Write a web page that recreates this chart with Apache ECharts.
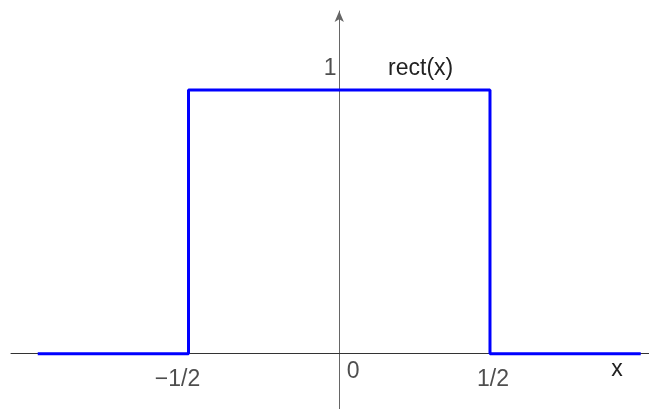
<!DOCTYPE html>
<html>
<head>
<meta charset="utf-8">
<script src="https://cdn.jsdelivr.net/npm/echarts@6/dist/echarts.min.js"></script>
<style>
  html, body { margin: 0; padding: 0; background: #fff; }
  #chart { width: 649px; height: 409px; }
</style>
</head>
<body>
<div id="chart"></div>
<script>
// rect(x) as a step outline
var rectX = [-1, -0.5, -0.5, 0.5, 0.5, 1];
var rectY = [0, 0, 1, 1, 0, 0];

// tick labels, placed at their values on the axes
var tickX = [-0.5, 0, 0.5, 0];
var tickY = [0, 0, 0, 1];
var tickLabels = ['−1/2', '0', '1/2', '1'];

var curveName = 'rect(x)';
var curveLabelAt = [0.27, 1];

var points = [];
for (var i = 0; i < rectX.length; i++) {
    points.push([rectX[i], rectY[i]]);
}

var font = 'Liberation Sans, Arial, sans-serif';
var txt = '#222';
var fs = 23;

// label offsets from their anchor point (px)
var offsets = [[-11, 26], [14, 18], [3, 26], [-9, -21]];
var tickItems = [];
for (var j = 0; j < tickLabels.length; j++) {
    tickItems.push({
        value: [tickX[j], tickY[j]],
        label: { formatter: tickLabels[j], offset: offsets[j] }
    });
}

var chart = echarts.init(document.getElementById('chart'));
chart.setOption({
    animation: false,
    grid: { left: 11, right: 0, top: 11, bottom: 0, containLabel: false, outerBoundsMode: 'none' },
    xAxis: {
        type: 'value',
        min: -1.0887,
        max: 1.0274,
        splitLine: { show: false },
        axisTick: { show: false },
        axisLabel: { show: false },
        axisLine: { onZero: true, lineStyle: { color: '#333', width: 1 } },
        name: 'x',
        nameLocation: 'end',
        nameGap: -32,
        nameTextStyle: {
            color: txt, fontFamily: font, fontSize: fs,
            align: 'center', verticalAlign: 'top', padding: [4, 0, 0, 0]
        }
    },
    yAxis: {
        type: 'value',
        min: -0.2097,
        max: 1.2996,
        splitLine: { show: false },
        axisTick: { show: false },
        axisLabel: { show: false },
        axisLine: {
            onZero: true,
            symbol: ['none', 'arrow'],
            symbolSize: [7, 11],
            lineStyle: { color: '#666', width: 1 }
        }
    },
    series: [{
        type: 'line',
        data: points,
        symbol: 'none',
        lineStyle: { color: '#0000ff', width: 3 },
        z: 3,
        markPoint: {
            symbol: 'circle',
            symbolSize: 0,
            label: {
                show: true,
                position: 'inside',
                offset: [0, -21],
                color: txt,
                fontFamily: font,
                fontSize: fs,
                formatter: curveName
            },
            data: [{ coord: curveLabelAt }]
        }
    }, {
        type: 'scatter',
        symbolSize: 0,
        silent: true,
        data: tickItems,
        label: {
            show: true,
            position: 'inside',
            color: txt,
            fontFamily: font,
            fontSize: fs
        }
    }]
});
</script>
</body>
</html>
